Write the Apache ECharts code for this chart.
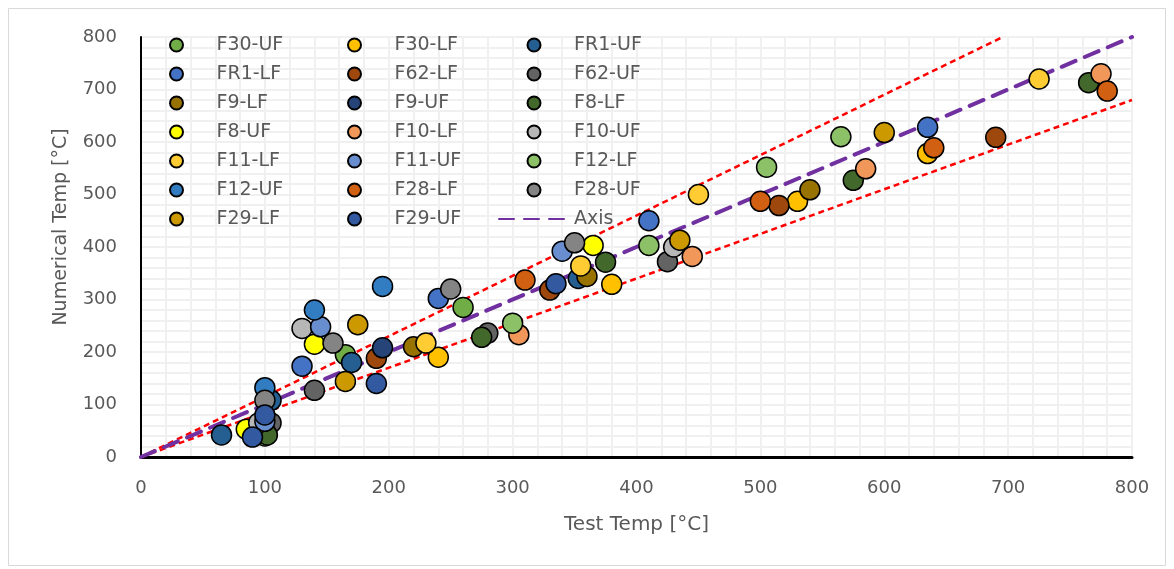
<!DOCTYPE html>
<html>
<head>
<meta charset="utf-8">
<script src="https://cdn.jsdelivr.net/npm/echarts@6/dist/echarts.min.js"></script>
<style>
  html, body { margin: 0; padding: 0; background: #fff; }
  #main { width: 1174px; height: 569px; }
</style>
</head>
<body>
<div id="main"></div>
<script>
// series names, in legend order (row by row)
var seriesNames = ['F30-UF', 'F30-LF', 'FR1-UF', 'FR1-LF', 'F62-LF', 'F62-UF', 'F9-LF',
    'F9-UF', 'F8-LF', 'F8-UF', 'F10-LF', 'F10-UF', 'F11-LF', 'F11-UF',
    'F12-LF', 'F12-UF', 'F28-LF', 'F28-UF', 'F29-LF', 'F29-UF'];

// test temperature [°C] per series
var testTemp = [
    [100, 165, 260],
    [240, 380, 530, 635],
    [65, 105, 170, 353],
    [100, 130, 240, 410, 635],
    [190, 330, 515, 690],
    [105, 140, 280, 425],
    [220, 360, 540],
    [100, 195],
    [102, 275, 375, 575, 765],
    [85, 140, 365],
    [305, 445, 585, 775],
    [95, 130, 430],
    [230, 355, 450, 725],
    [100, 145, 340],
    [300, 410, 505, 565],
    [100, 140, 195],
    [310, 500, 640, 780],
    [100, 155, 250, 350],
    [165, 175, 435, 600],
    [90, 100, 190, 335]
];

// numerical temperature [°C] per series
var numTemp = [
    [40, 195, 285],
    [190, 329, 487, 578],
    [42, 108, 180, 340],
    [60, 173, 302, 450, 628],
    [188, 318, 479, 609],
    [65, 127, 236, 372],
    [210, 344, 509],
    [50, 208],
    [42, 228, 371, 527, 713],
    [53, 215, 403],
    [233, 382, 549, 730],
    [65, 245, 400],
    [217, 364, 500, 720],
    [68, 248, 392],
    [255, 403, 552, 610],
    [132, 280, 325],
    [337, 487, 589, 697],
    [108, 217, 320, 408],
    [144, 252, 413, 618],
    [38, 80, 140, 330]
];

// reference line y = x and the +/-15% band
var axisLine = [0, 800];
var bandFactors = [1.15, 0.85];

// marker colours, same order as seriesNames
var colors = ['#70AD47', '#FFC000', '#255E91', '#4472C4', '#9E480E', '#636363', '#997300',
    '#264478', '#43682B', '#FFFF00', '#F1975A', '#B7B7B7', '#FFCD33', '#698ED0',
    '#8CC168', '#327DC2', '#D26012', '#848484', '#CC9A00', '#335AA1'];

var fontFamily = 'DejaVu Sans';
var textColor = '#595959';

var myChart = echarts.init(document.getElementById('main'));

var series = [];

// dashed guide lines first, kept under the markers
bandFactors.forEach(function (f, i) {
    var xEnd = Math.min(axisLine[1], axisLine[1] / f);
    series.push({
        name: 'band' + i,
        type: 'line',
        symbol: 'none',
        silent: true,
        z: 1,
        data: [[0, 0], [xEnd, xEnd * f]],
        lineStyle: { color: '#FF0000', width: 2.5, type: [6, 4] }
    });
});
series.push({
    name: 'Axis',
    type: 'line',
    symbol: 'none',
    silent: true,
    z: 1,
    data: [[axisLine[0], axisLine[0]], [axisLine[1], axisLine[1]]],
    lineStyle: { color: '#7030A0', width: 4, type: [15, 10], cap: 'round' }
});

seriesNames.forEach(function (name, i) {
    series.push({
        name: name,
        type: 'scatter',
        symbol: 'circle',
        symbolSize: 20,
        z: 3,
        data: testTemp[i].map(function (x, j) { return [x, numTemp[i][j]]; }),
        itemStyle: {
            color: colors[i],
            borderColor: '#000',
            borderWidth: 1.5,
            opacity: 1
        }
    });
});

function legendCol(left, names) {
    return {
        orient: 'vertical',
        left: left,
        top: 35,
        padding: 0,
        itemWidth: 70,
        itemHeight: 13,
        itemGap: 9,
        selectedMode: false,
        data: names,
        textStyle: {
            fontFamily: fontFamily,
            fontSize: 19,
            lineHeight: 20,
            color: textColor
        }
    };
}

var col1 = [], col2 = [], col3 = [];
seriesNames.forEach(function (n, i) {
    if (i % 3 === 0) col1.push(n);
    else if (i % 3 === 1) col2.push(n);
    else col3.push(n);
});
col3.push({ name: 'Axis', itemStyle: { opacity: 0 } });

var option = {
    animation: false,
    backgroundColor: '#fff',
    graphic: [{
        type: 'rect',
        shape: { x: 8.5, y: 8.5, width: 1157, height: 557 },
        style: { fill: 'none', stroke: '#D9D9D9', lineWidth: 1 },
        z: -10
    }],
    grid: {
        left: 141,
        right: 42,
        top: 37,
        bottom: 112
    },
    legend: [legendCol(169, col1), legendCol(347, col2), legendCol(498, col3)],
    xAxis: {
        type: 'value',
        min: 0,
        max: 800,
        interval: 100,
        name: 'Test Temp [°C]',
        nameLocation: 'middle',
        nameGap: 58,
        nameTextStyle: { fontFamily: fontFamily, fontSize: 20, color: textColor },
        axisLine: { lineStyle: { color: '#000', width: 3 } },
        axisTick: { show: false },
        axisLabel: { fontFamily: fontFamily, fontSize: 18, color: textColor, margin: 22 },
        splitLine: { show: true, lineStyle: { color: '#F0F0F0', width: 2 } },
        minorTick: { show: false, splitNumber: 5 },
        minorSplitLine: { show: true, lineStyle: { color: '#F0F0F0', width: 2 } }
    },
    yAxis: {
        type: 'value',
        min: 0,
        max: 800,
        interval: 100,
        name: 'Numerical Temp [°C]',
        nameLocation: 'middle',
        nameGap: 70,
        nameTextStyle: { fontFamily: fontFamily, fontSize: 19, color: textColor, padding: [0, 0, 0, 40] },
        axisLine: { show: true, lineStyle: { color: '#000', width: 2 } },
        axisTick: { show: false },
        axisLabel: { fontFamily: fontFamily, fontSize: 18, color: textColor, margin: 24 },
        splitLine: { show: true, lineStyle: { color: '#F0F0F0', width: 2 } },
        minorTick: { show: false, splitNumber: 5 },
        minorSplitLine: { show: true, lineStyle: { color: '#F0F0F0', width: 2 } }
    },
    series: series
};

myChart.setOption(option);
</script>
</body>
</html>
